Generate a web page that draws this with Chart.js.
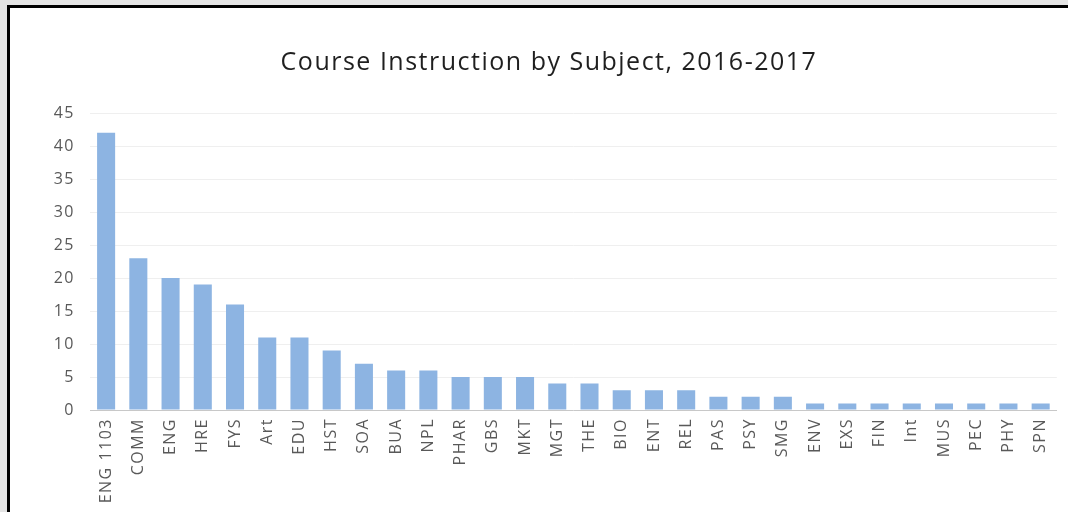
<!DOCTYPE html>
<html>
<head>
<meta charset="utf-8">
<script src="https://cdn.jsdelivr.net/npm/chart.js@4/dist/chart.umd.min.js"></script>
<style>
  html, body { margin: 0; padding: 0; background: #e4e4e4; width: 1068px; height: 512px; overflow: hidden; }
  #frame { position: absolute; left: 7px; top: 5px; width: 1068px; height: 520px; background: #fff;
           border-top: 3px solid #000; border-left: 3px solid #000; }
  #wrap { position: absolute; left: 0; top: 0; width: 1058px; height: 504px; }
</style>
</head>
<body>
<div id="frame"><div id="wrap"><canvas id="c" width="1058" height="504"></canvas></div></div>
<script>
const categories = ["ENG 1103","COMM","ENG","HRE","FYS","Art","EDU","HST","SOA","BUA","NPL","PHAR","GBS","MKT","MGT","THE","BIO","ENT","REL","PAS","PSY","SMG","ENV","EXS","FIN","Int","MUS","PEC","PHY","SPN"];
const courses = [42,23,20,19,16,11,11,9,7,6,6,5,5,5,4,4,3,3,3,2,2,2,1,1,1,1,1,1,1,1];
const yTicks = [0,5,10,15,20,25,30,35,40,45];
const titleText = "Course Instruction by Subject, 2016-2017";

const textPlugin = {
  id: 'textStyle',
  beforeDraw(chart) { chart.ctx.letterSpacing = '1.5px'; },
  afterDraw(chart) {
    const ctx = chart.ctx;
    ctx.save();
    ctx.letterSpacing = '1.5px';
    ctx.font = '25px "Open Sans"';
    ctx.fillStyle = '#1f1f1f';
    ctx.textAlign = 'center';
    ctx.textBaseline = 'alphabetic';
    ctx.fillText(titleText, 539, 62);
    ctx.restore();
  }
};

new Chart(document.getElementById('c'), {
  type: 'bar',
  data: {
    labels: categories,
    datasets: [{ data: courses, backgroundColor: '#8DB4E2', barPercentage: 0.56, categoryPercentage: 1.0 }]
  },
  plugins: [textPlugin],
  options: {
    responsive: false,
    animation: false,
    layout: { padding: { left: 26, right: 8, top: 105, bottom: 0 } },
    plugins: {
      legend: { display: false },
      tooltip: { enabled: false },
      title: { display: false }
    },
    scales: {
      x: {
        grid: { display: false, drawTicks: false },
        border: { display: true, color: '#c8c8c8', width: 1 },
        ticks: {
          color: '#595959', font: { family: 'Open Sans', size: 16 },
          maxRotation: 90, minRotation: 90, autoSkip: false, padding: 8
        },
        afterFit: (s) => { s.height = 102; }
      },
      y: {
        min: 0, max: 45,
        afterBuildTicks: (s) => { s.ticks = yTicks.map(v => ({ value: v })); },
        grid: { color: '#efefef', drawTicks: false },
        border: { display: false },
        ticks: { color: '#595959', font: { family: 'Open Sans', size: 16 }, padding: 15 },
        afterFit: (s) => { s.width = 54; }
      }
    }
  }
});
</script>
</body>
</html>
